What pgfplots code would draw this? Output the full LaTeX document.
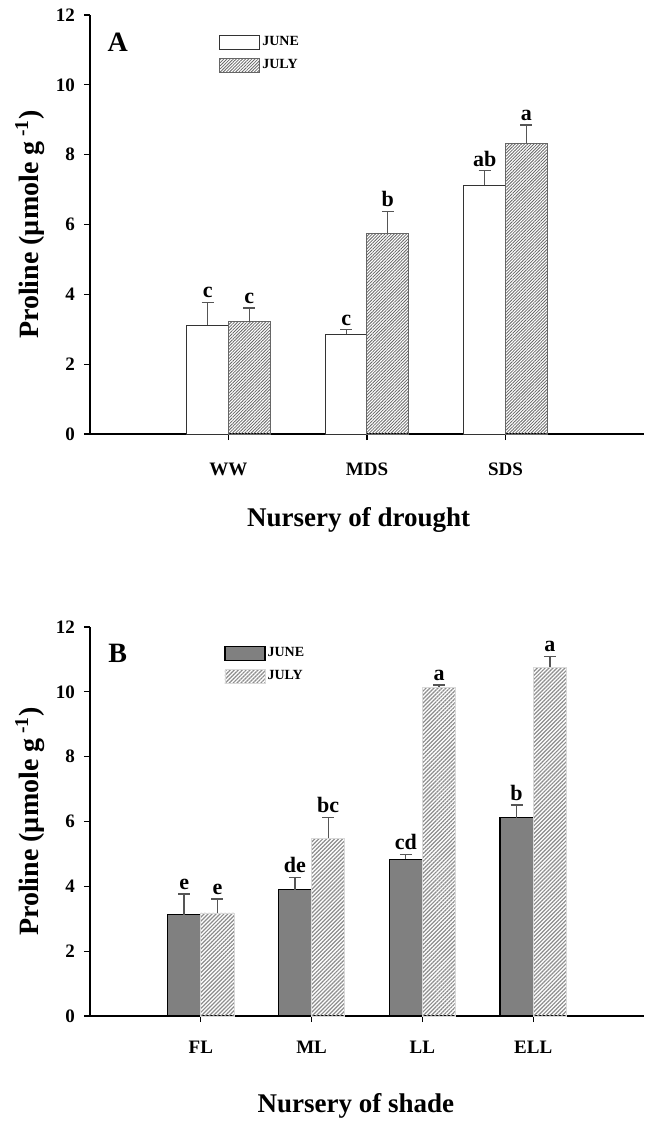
\documentclass[border=0pt]{standalone}
\usepackage{pgfplots}
\pgfplotsset{compat=1.18}
\usetikzlibrary{patterns.meta}
\usepackage{fontspec}
\setmainfont{Liberation Serif}

\definecolor{edgeA}{HTML}{333333}
\definecolor{hatchA}{HTML}{666666}
\definecolor{juneB}{HTML}{808080}
\definecolor{hatchB}{HTML}{8C8C8C}
\definecolor{errcol}{HTML}{555555}

\pgfplotsset{
  panel/.style={
    scale only axis,
    width=277pt,
    axis x line*=bottom,
    axis y line*=left,
    axis line style={black, line width=0.8pt},
    tick align=outside,
    major tick length=3pt,
    tick style={black, line width=0.6pt},
    ymin=0, ymax=12,
    ytick={0,2,...,12},
    /pgf/number format/assume math mode=true,
    tick label style={font=\bfseries\fontsize{9.5}{10}\selectfont},
    yticklabel style={xshift=-1pt},
    label style={font=\bfseries\fontsize{13.5}{15}\selectfont},
    ylabel={Proline (µmole g\,\textsuperscript{-1})},
    ylabel style={at={(axis description cs:0,0.5)}, anchor=center, yshift=30pt,
      font=\bfseries\fontsize{14}{15}\selectfont},
    legend style={draw=none, fill=none, font=\bfseries\fontsize{7}{8}\selectfont,
      row sep=3.5pt, nodes={inner sep=1pt}},
    legend cell align=left,
    legend image code/.code={\draw[#1] (0pt,-3.5pt) rectangle (20pt,3.5pt);},
    /tikz/every even column/.append style={column sep=3pt},
    error bars/y dir=plus,
    error bars/y explicit,
    error bars/error bar style={errcol, line width=0.7pt},
    error bars/error mark options={rotate=90, mark size=3pt, errcol, line width=0.7pt},
  },
  bars/.style={ybar, bar width=0.3, bar shift=0},
  letters/.style={draw=none, mark=none, forget plot, nodes near coords,
    point meta=explicit symbolic,
    nodes near coords style={anchor=south, inner sep=2pt,
      font=\bfseries\fontsize{11}{12}\selectfont}},
}

\begin{document}
\begin{tikzpicture}
\useasboundingbox (0,0) rectangle (326pt,-563pt);

% Panel A: drought
\begin{axis}[panel,
  at={(45pt,-217pt)}, anchor=south west,
  height=209.5pt,
  xmin=0, xmax=4,
  xtick={1,2,3}, xticklabels={WW,MDS,SDS},
  xticklabel style={yshift=-8pt},
  xlabel={Nursery of drought},
  xlabel style={at={(axis description cs:0.485,0)}, anchor=center, yshift=-43pt},
  legend style={at={(rel axis cs:0.222,0.965)}, anchor=north west},
]
\addplot[bars, fill=white, draw=edgeA, line width=0.5pt]
  coordinates {(0.85,3.12) +- (0,0.65) (1.85,2.85) +- (0,0.14) (2.85,7.13) +- (0,0.41)};
\addlegendentry{JUNE}
\addplot[bars, draw=hatchA, line width=0.5pt,
  pattern={Lines[angle=45, distance=1.1pt, line width=0.4pt]}, pattern color=hatchA]
  coordinates {(1.15,3.21) +- (0,0.40) (2.15,5.75) +- (0,0.63) (3.15,8.33) +- (0,0.52)};
\addlegendentry{JULY}
\addplot[letters] table[meta=lab] {
x y lab
0.85 3.77 c
1.15 3.61 c
1.85 2.99 c
2.15 6.38 b
2.85 7.54 ab
3.15 8.85 a
};
\node[font=\bfseries\fontsize{14}{15}\selectfont] at (rel axis cs:0.05,0.935) {A};
\end{axis}

% Panel B: shade
\begin{axis}[panel,
  at={(45pt,-508pt)}, anchor=south west,
  height=194.5pt,
  xmin=0, xmax=5,
  xtick={1,2,3,4}, xticklabels={FL,ML,LL,ELL},
  xticklabel style={yshift=-6pt},
  xlabel={Nursery of shade},
  xlabel style={at={(axis description cs:0.48,0)}, anchor=center, yshift=-45pt},
  legend style={at={(rel axis cs:0.231,0.965)}, anchor=north west},
]
\addplot[bars, fill=juneB, draw=black, line width=0.6pt]
  coordinates {(0.85,3.12) +- (0,0.64) (1.85,3.90) +- (0,0.37) (2.85,4.83) +- (0,0.16) (3.85,6.12) +- (0,0.39)};
\addlegendentry{JUNE}
\addplot[bars, draw=black!15, line width=0.4pt,
  pattern={Lines[angle=45, distance=1.4pt, line width=0.6pt]}, pattern color=hatchB]
  coordinates {(1.15,3.18) +- (0,0.43) (2.15,5.49) +- (0,0.64) (3.15,10.14) +- (0,0.07) (4.15,10.76) +- (0,0.33)};
\addlegendentry{JULY}
\addplot[letters] table[meta=lab] {
x y lab
0.85 3.76 e
1.15 3.61 e
1.85 4.27 de
2.15 6.13 bc
2.85 4.99 cd
3.15 10.21 a
3.85 6.51 b
4.15 11.09 a
};
\node[font=\bfseries\fontsize{14}{15}\selectfont] at (rel axis cs:0.05,0.933) {B};
\end{axis}
\end{tikzpicture}
\end{document}
